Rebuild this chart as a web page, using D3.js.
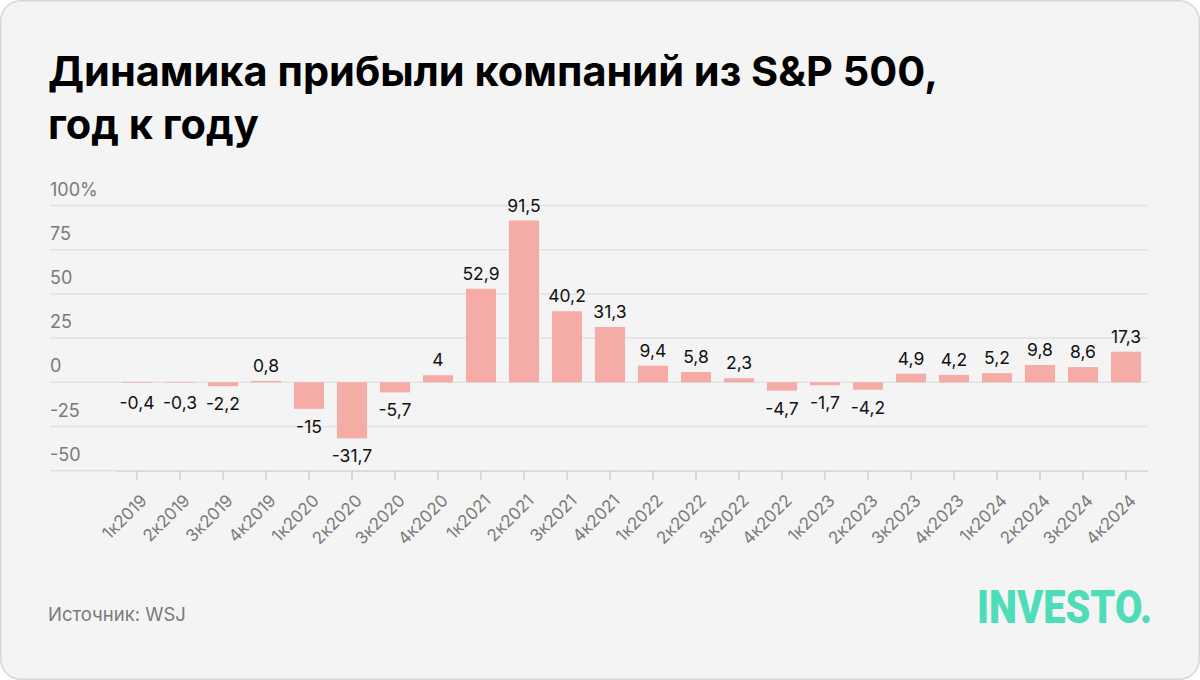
<!DOCTYPE html>
<html>
<head>
<meta charset="utf-8">
<script src="https://cdn.jsdelivr.net/npm/d3@7"></script>
<style>
  html, body { margin: 0; padding: 0; background: #ffffff; }
  svg { display: block; }
</style>
</head>
<body>
<svg id="chart" width="1200" height="680"></svg>
<script>
const categories = ["1к2019","2к2019","3к2019","4к2019","1к2020","2к2020","3к2020","4к2020",
  "1к2021","2к2021","3к2021","4к2021","1к2022","2к2022","3к2022","4к2022",
  "1к2023","2к2023","3к2023","4к2023","1к2024","2к2024","3к2024","4к2024"];
const values = [-0.4, -0.3, -2.2, 0.8, -15, -31.7, -5.7, 4,
  52.9, 91.5, 40.2, 31.3, 9.4, 5.8, 2.3, -4.7,
  -1.7, -4.2, 4.9, 4.2, 5.2, 9.8, 8.6, 17.3];
const yTicks = [-50, -25, 0, 25, 50, 75, 100];
const yTickLabels = ["-50", "-25", "0", "25", "50", "75", "100%"];
const titleLines = ["Динамика прибыли компаний из S&P 500,", "год к году"];
const sourceText = "Источник: WSJ";
const logoText = "INVESTO.";

const svg = d3.select("#chart");
const W = 1200, H = 680;

// card background
svg.append("rect").attr("x", 0.75).attr("y", 0.75).attr("width", W - 1.5).attr("height", H - 1.5)
  .attr("rx", 20).attr("fill", "#f4f4f4").attr("stroke", "#d6d6d6").attr("stroke-width", 1.5);

// title
const title = svg.append("text").attr("x", 48).attr("y", 85)
  .attr("font-family", "Inter, 'Liberation Sans', sans-serif").attr("font-weight", 700)
  .attr("font-size", 41.5).attr("fill", "#000");
titleLines.forEach((t, i) => {
  const ts = title.append("tspan").attr("x", 48).attr("y", 86 + i * 53).text(t);
  if (i === 0) ts.attr("textLength", 890).attr("lengthAdjust", "spacingAndGlyphs");
});

const x = d3.scaleBand().domain(categories).range([115.5, 1147.5]).paddingInner(0.3).paddingOuter(0.15);
const y = d3.scaleLinear().domain([-50, 100]).range([470.7, 205.5]);

// gridlines + y labels
const grid = svg.append("g");
grid.selectAll("line").data(yTicks).join("line")
  .attr("x1", 50).attr("x2", 1147.5)
  .attr("y1", d => y(d)).attr("y2", d => y(d))
  .attr("stroke", "#e2e2e2").attr("stroke-width", 1.5);
grid.selectAll("text").data(yTicks).join("text")
  .attr("x", 50).attr("y", d => y(d) - 10)
  .attr("font-family", "Inter, sans-serif").attr("font-size", 18)
  .attr("fill", "#7a7a7a")
  .text((d, i) => yTickLabels[i]);

// x axis
const xAxis = svg.append("g").attr("transform", `translate(0, ${y(-50)})`)
  .call(d3.axisBottom(x).tickSize(9).tickSizeOuter(0).tickPadding(0));
xAxis.select(".domain").attr("stroke", "#d9d9d9").attr("stroke-width", 1.5);
xAxis.selectAll(".tick line").attr("stroke", "#cfcfcf").attr("stroke-width", 1.5);
xAxis.selectAll(".tick text")
  .attr("font-family", "Inter, sans-serif").attr("font-size", 17).attr("fill", "#7a7a7a")
  .attr("text-anchor", "end").attr("dy", 0).attr("y", 0)
  .attr("transform", "translate(11, 31) rotate(-45)");

// bars
const data = categories.map((c, i) => ({ c, v: values[i] }));
svg.append("g").selectAll("rect").data(data).join("rect")
  .attr("x", d => x(d.c))
  .attr("width", x.bandwidth())
  .attr("y", d => y(Math.max(0, d.v)))
  .attr("height", d => Math.abs(y(d.v) - y(0)))
  .attr("fill", "#f5aca7");

// value labels
const fmt = v => String(v).replace(".", ",");
svg.append("g").selectAll("text").data(data).join("text")
  .attr("x", d => x(d.c) + x.bandwidth() / 2)
  .attr("y", d => d.v >= 0 ? y(d.v) - 9 : Math.max(y(d.v) + 24, y(0) + 27))
  .attr("text-anchor", "middle")
  .attr("font-family", "Inter, sans-serif").attr("font-size", 17.5).attr("fill", "#111")
  .text(d => fmt(d.v));

// source
svg.append("text").attr("x", 48).attr("y", 621)
  .attr("font-family", "Inter, sans-serif").attr("font-size", 18.5).attr("fill", "#7a7a7a")
  .text(sourceText);

// logo
svg.append("text").attr("x", 977).attr("y", 623)
  .attr("font-family", "Roboto, sans-serif").attr("font-weight", 900)
  .attr("font-size", 47).attr("fill", "#4fdcb8")
  .attr("textLength", 175).attr("lengthAdjust", "spacingAndGlyphs")
  .text(logoText);
</script>
</body>
</html>
